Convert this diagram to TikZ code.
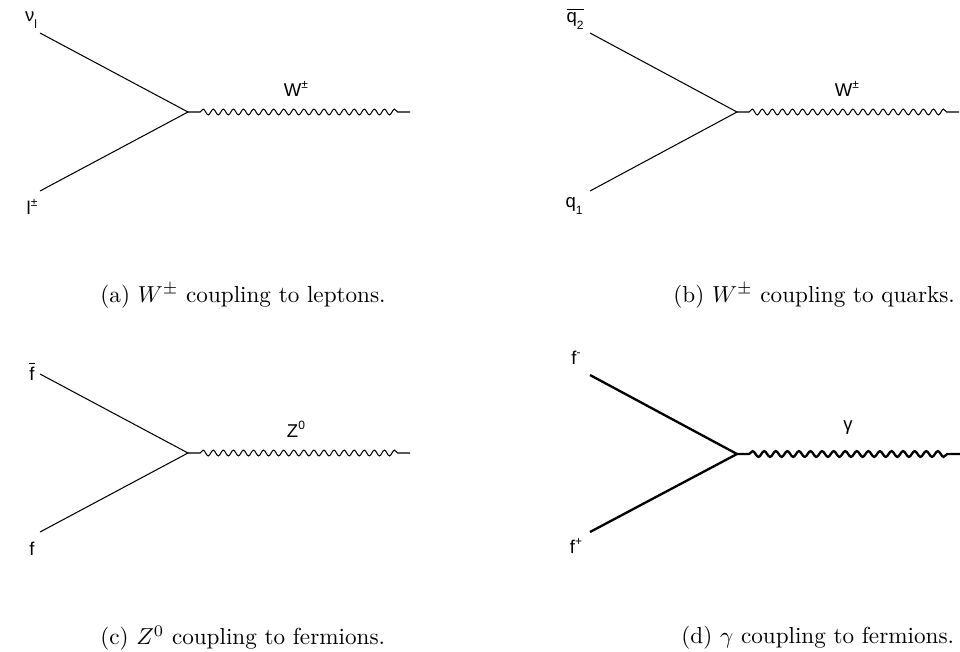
\documentclass[tikz,border=0pt]{standalone}
\usepackage{fontspec}
\newfontfamily\lblfont{Liberation Sans}
\usetikzlibrary{positioning, decorations.pathmorphing}

\newcommand{\lo}[1]{\raisebox{-0.7ex}{\fontsize{5.2}{6}\selectfont #1}}
\newcommand{\hi}[1]{\raisebox{0.8ex}{\fontsize{5.2}{6}\selectfont #1}}

\begin{document}
\begin{tikzpicture}[
    x=0.432pt, y=-0.432pt,
    fermion/.style={line width=0.45pt},
    boson/.style={
        line width=0.45pt,
        decorate,
        decoration={snake, amplitude=1.25pt, segment length=4.35pt,
                    pre length=5.2pt, post length=5.2pt}
    },
    heavy/.style={line width=1pt},
    lbl/.style={font=\lblfont\fontsize{8}{9.5}\selectfont, inner sep=0pt},
    capt/.style={anchor=west, inner sep=0pt}
]
\useasboundingbox (0,0) rectangle (960,651);

% (a) W to leptons
\coordinate (a-v) at (188,112);
\coordinate (a-in) at (40,33);
\coordinate (a-out) at (40,191);
\coordinate (a-end) at (410,112);
\node[lbl] (a-nu) at (31,20) {ν\lo{l}};
\node[lbl] (a-lep) at (32,207) {l\hi{±}};
\node[lbl] (a-w) at (296,89) {W\hi{±}};
\draw[fermion] (a-in) -- (a-v) -- (a-out);
\draw[boson] (a-v) -- (a-end);
\node[capt] (a-cap) at (100,296) {(a) $W^{\pm}$ coupling to leptons.};

% (b) W to quarks
\coordinate (b-v) at (737,112);
\coordinate (b-in) at (590,33);
\coordinate (b-out) at (590,191);
\coordinate (b-end) at (959,112);
\node[lbl] (b-qbar) at (575,19) {$\overline{\hbox{q\lo{2}}}$};
\node[lbl] (b-q) at (574,206) {q\lo{1}};
\node[lbl] (b-w) at (847,89) {W\hi{±}};
\draw[fermion] (b-in) -- (b-v) -- (b-out);
\draw[boson] (b-v) -- (b-end);
\node[capt] (b-cap) at (673,296) {(b) $W^{\pm}$ coupling to quarks.};

% (c) Z to fermions
\coordinate (c-v) at (188,453);
\coordinate (c-in) at (40,374);
\coordinate (c-out) at (40,532);
\coordinate (c-end) at (410,453);
\node[lbl] (c-fbar) at (32,371) {$\overline{\hbox{f}}$};
\node[lbl] (c-f) at (32,549) {f};
\node[lbl] (c-z) at (296,429) {Z\hi{0}};
\draw[fermion] (c-in) -- (c-v) -- (c-out);
\draw[boson] (c-v) -- (c-end);
\node[capt] (c-cap) at (100,638) {(c) $Z^{0}$ coupling to fermions.};

% (d) photon to fermions
\coordinate (d-v) at (737,454);
\coordinate (d-in) at (590,375);
\coordinate (d-out) at (590,532);
\coordinate (d-end) at (960,454);
\node[lbl] (d-fm) at (576,358) {f\hi{-}};
\node[lbl] (d-fp) at (576,546) {f\hi{+}};
\node[lbl] (d-gam) at (848,428) {γ};
\draw[fermion, heavy] (d-in) -- (d-v) -- (d-out);
\draw[boson, heavy, decoration={segment length=5pt}] (d-v) -- (d-end);
\node[capt] (d-cap) at (681,638) {(d) $\gamma$ coupling to fermions.};

\end{tikzpicture}
\end{document}
